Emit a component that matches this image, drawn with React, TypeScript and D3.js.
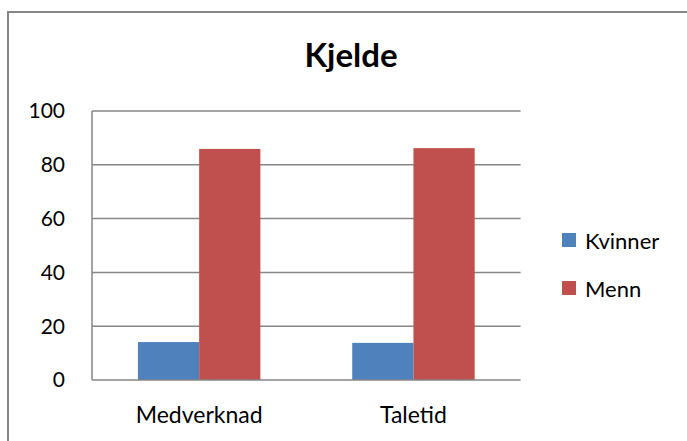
import React from 'react';
import * as d3 from 'd3';

const categories = ['Medverknad', 'Taletid'];
const seriesNames = ['Kvinner', 'Menn'];
const kvinner = [14.1, 13.8];
const menn = [85.9, 86.2];
const yTicks = [0, 20, 40, 60, 80, 100];
const colors = ['#4F81BD', '#C0504D'];

const App = () => {
  const ref = React.useRef<SVGSVGElement>(null);

  React.useEffect(() => {
    const svg = d3.select(ref.current);
    svg.selectAll('*').remove();
    const width = 687;
    const height = 441;
    const font = 'Lato, "Open Sans", sans-serif';
    const plot = { left: 92, right: 520.6, top: 111, bottom: 380 };

    // outer chart frame (only top/left visible in the crop)
    svg.append('path')
      .attr('d', `M8,${height + 5}V12H${width + 5}`)
      .attr('fill', 'none')
      .attr('stroke', '#868686')
      .attr('stroke-width', 2);

    svg.append('text')
      .attr('x', 351)
      .attr('y', 67)
      .attr('text-anchor', 'middle')
      .attr('font-family', font)
      .attr('font-weight', 'bold')
      .attr('font-size', 33)
      .text('Kjelde');

    const x0 = d3.scaleBand()
      .domain(categories)
      .range([plot.left, plot.right])
      .paddingInner(0)
      .paddingOuter(0);

    // Excel gap width 150% -> two bars take 2/(2+1.5) of the band
    const barW = x0.bandwidth() / 3.5;
    const x1 = d3.scaleBand()
      .domain(seriesNames)
      .range([0, barW * 2]);

    const y = d3.scaleLinear()
      .domain([0, 100])
      .range([plot.bottom, plot.top]);

    const g = svg.append('g');

    g.selectAll('.grid')
      .data(yTicks.slice(1))
      .enter().append('line')
      .attr('x1', plot.left)
      .attr('x2', plot.right)
      .attr('y1', d => y(d))
      .attr('y2', d => y(d))
      .attr('stroke', '#868686')
      .attr('stroke-width', 1.5);

    const values = [kvinner, menn];
    seriesNames.forEach((s, si) => {
      g.selectAll(`.bar-${si}`)
        .data(categories)
        .enter().append('rect')
        .attr('x', c => (x0(c) as number) + x0.bandwidth() / 2 - barW + (x1(s) as number))
        .attr('width', x1.bandwidth())
        .attr('y', (c, i) => y(values[si][i]))
        .attr('height', (c, i) => plot.bottom - y(values[si][i]))
        .attr('fill', colors[si]);
    });

    // axes lines
    g.append('line')
      .attr('x1', plot.left).attr('x2', plot.left)
      .attr('y1', plot.top).attr('y2', plot.bottom)
      .attr('stroke', '#868686').attr('stroke-width', 1.5);
    g.append('line')
      .attr('x1', plot.left).attr('x2', plot.right)
      .attr('y1', plot.bottom).attr('y2', plot.bottom)
      .attr('stroke', '#868686').attr('stroke-width', 1.5);

    g.selectAll('.ytick')
      .data(yTicks)
      .enter().append('text')
      .attr('x', 65)
      .attr('y', d => y(d))
      .attr('dy', '0.35em')
      .attr('text-anchor', 'end')
      .attr('font-family', font)
      .attr('font-size', 21)
      .attr('fill', '#000')
      .text(d => d);

    g.selectAll('.xtick')
      .data(categories)
      .enter().append('text')
      .attr('x', c => (x0(c) as number) + x0.bandwidth() / 2)
      .attr('y', 415)
      .attr('dy', '0.35em')
      .attr('text-anchor', 'middle')
      .attr('font-family', font)
      .attr('font-size', 23)
      .attr('fill', '#000')
      .text(c => c);

    const legend = svg.append('g')
      .attr('transform', 'translate(562,233)');
    seriesNames.forEach((s, i) => {
      const row = legend.append('g').attr('transform', `translate(0,${i * 48})`);
      row.append('rect')
        .attr('width', 14)
        .attr('height', 14)
        .attr('fill', colors[i]);
      row.append('text')
        .attr('x', 23)
        .attr('y', 8)
        .attr('dy', '0.35em')
        .attr('font-family', font)
        .attr('font-size', 22)
        .text(s);
    });
  }, []);

  return (
    <svg
      ref={ref}
      width={687}
      height={441}
      style={{ position: 'absolute', left: 0, top: 0, background: '#fff' }}
    />
  );
};

export default App;
